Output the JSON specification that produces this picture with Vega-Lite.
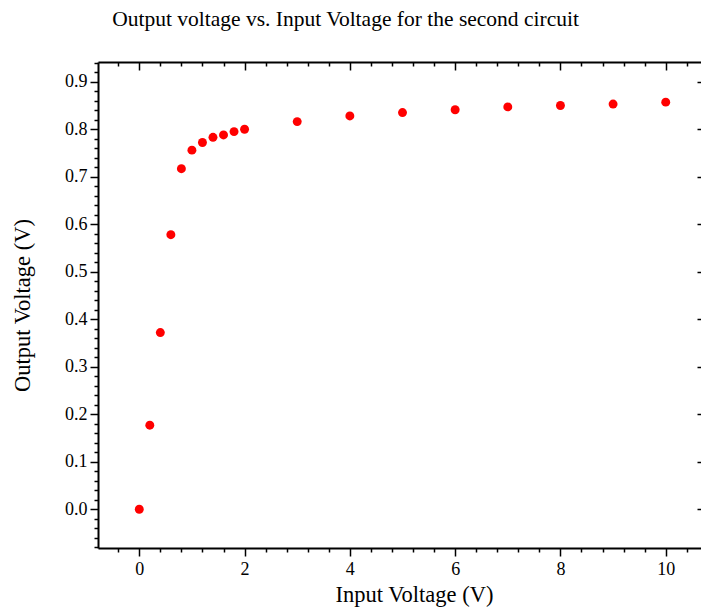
{
  "$schema": "https://vega.github.io/schema/vega-lite/v6.json",
  "width": 607,
  "height": 486,
  "autosize": {"type": "none"},
  "padding": {"left": 98, "top": 62, "right": 0, "bottom": 62},
  "background": "white",
  "config": {
    "font": "Liberation Serif",
    "view": {"stroke": null},
    "axis": {
      "grid": false,
      "domainColor": "black",
      "tickColor": "black",
      "labelColor": "black",
      "titleColor": "black",
      "domainWidth": 2,
      "tickWidth": 1.5,
      "labelFont": "Liberation Serif",
      "titleFont": "Liberation Serif",
      "labelFontSize": 18,
      "titleFontSize": 22,
      "titleFontWeight": "normal"
    }
  },
  "title": {
    "text": "Output voltage vs. Input Voltage for the second circuit",
    "font": "Liberation Serif",
    "fontSize": 21.5,
    "fontWeight": "normal",
    "color": "black",
    "anchor": "middle",
    "frame": "group",
    "dx": -56,
    "offset": 31
  },
  "data": {
    "values": [
      {"vin": 0, "vout": 0.0},
      {"vin": 0.2, "vout": 0.177},
      {"vin": 0.4, "vout": 0.372},
      {"vin": 0.6, "vout": 0.578},
      {"vin": 0.8, "vout": 0.717},
      {"vin": 1.0, "vout": 0.756},
      {"vin": 1.2, "vout": 0.772},
      {"vin": 1.4, "vout": 0.783},
      {"vin": 1.6, "vout": 0.788},
      {"vin": 1.8, "vout": 0.795},
      {"vin": 2.0, "vout": 0.800},
      {"vin": 3, "vout": 0.816},
      {"vin": 4, "vout": 0.828},
      {"vin": 5, "vout": 0.835},
      {"vin": 6, "vout": 0.841},
      {"vin": 7, "vout": 0.847},
      {"vin": 8, "vout": 0.850},
      {"vin": 9, "vout": 0.853},
      {"vin": 10, "vout": 0.857}
    ]
  },
  "resolve": {"axis": {"x": "independent", "y": "independent"}},
  "layer": [
    {
      "mark": {"type": "point", "filled": true, "size": 80, "color": "#ff0000", "opacity": 1, "strokeWidth": 0},
      "encoding": {
        "x": {
          "field": "vin", "type": "quantitative",
          "scale": {"domain": [-0.784, 10.746], "nice": false, "zero": false},
          "axis": {
            "orient": "bottom",
            "values": [0, 2, 4, 6, 8, 10],
            "tickSize": 8,
            "labelPadding": 4,
            "labelFont": "Liberation Serif",
            "labelFontSize": 18,
            "labelColor": "black",
            "title": "Input Voltage (V)",
            "titleFont": "Liberation Serif",
            "titleFontSize": 22.5,
            "titleFontWeight": "normal",
            "titleX": 316,
            "titlePadding": 5
          }
        },
        "y": {
          "field": "vout", "type": "quantitative",
          "scale": {"domain": [-0.0815, 0.9415], "nice": false, "zero": false},
          "axis": {
            "orient": "left",
            "values": [0, 0.1, 0.2, 0.3, 0.4, 0.5, 0.6, 0.7, 0.8, 0.9],
            "format": ".1f",
            "tickSize": 8,
            "labelPadding": 3,
            "labelFont": "Liberation Serif",
            "labelFontSize": 18,
            "labelColor": "black",
            "title": "Output Voltage (V)",
            "titleFont": "Liberation Serif",
            "titleFontSize": 22.5,
            "titleFontWeight": "normal",
            "titlePadding": 30
          }
        }
      }
    },
    {
      "mark": {"type": "point", "filled": true, "opacity": 0},
      "encoding": {
        "x": {
          "field": "vin", "type": "quantitative",
          "axis": {
            "orient": "bottom",
            "values": [-0.4, 0.4, 0.8, 1.2, 1.6, 2.4, 2.8, 3.2, 3.6, 4.4, 4.8, 5.2, 5.6, 6.4, 6.8, 7.2, 7.6, 8.4, 8.8, 9.2, 9.6, 10.4],
            "tickSize": 4,
            "labels": false,
            "domain": false,
            "title": null
          }
        },
        "y": {
          "field": "vout", "type": "quantitative",
          "axis": {
            "orient": "left",
            "values": [-0.08, -0.06, -0.04, -0.02, 0.02, 0.04, 0.06, 0.08, 0.12, 0.14, 0.16, 0.18, 0.22, 0.24, 0.26, 0.28, 0.32, 0.34, 0.36, 0.38, 0.42, 0.44, 0.46, 0.48, 0.52, 0.54, 0.56, 0.58, 0.62, 0.64, 0.66, 0.68, 0.72, 0.74, 0.76, 0.78, 0.82, 0.84, 0.86, 0.88, 0.92, 0.94],
            "tickSize": 4,
            "labels": false,
            "domain": false,
            "title": null
          }
        }
      }
    },
    {
      "mark": {"type": "point", "filled": true, "opacity": 0},
      "encoding": {
        "x": {
          "field": "vin", "type": "quantitative",
          "axis": {
            "orient": "top",
            "values": [0, 2, 4, 6, 8, 10],
            "tickSize": -8,
            "labels": false,
            "title": null
          }
        },
        "y": {
          "field": "vout", "type": "quantitative",
          "axis": {
            "orient": "right",
            "values": [0, 0.1, 0.2, 0.3, 0.4, 0.5, 0.6, 0.7, 0.8, 0.9],
            "tickSize": -8,
            "labels": false,
            "title": null
          }
        }
      }
    },
    {
      "mark": {"type": "point", "filled": true, "opacity": 0},
      "encoding": {
        "x": {
          "field": "vin", "type": "quantitative",
          "axis": {
            "orient": "top",
            "values": [-0.4, 0.4, 0.8, 1.2, 1.6, 2.4, 2.8, 3.2, 3.6, 4.4, 4.8, 5.2, 5.6, 6.4, 6.8, 7.2, 7.6, 8.4, 8.8, 9.2, 9.6, 10.4],
            "tickSize": -4,
            "labels": false,
            "domain": false,
            "title": null
          }
        },
        "y": {
          "field": "vout", "type": "quantitative",
          "axis": {
            "orient": "right",
            "values": [-0.08, -0.06, -0.04, -0.02, 0.02, 0.04, 0.06, 0.08, 0.12, 0.14, 0.16, 0.18, 0.22, 0.24, 0.26, 0.28, 0.32, 0.34, 0.36, 0.38, 0.42, 0.44, 0.46, 0.48, 0.52, 0.54, 0.56, 0.58, 0.62, 0.64, 0.66, 0.68, 0.72, 0.74, 0.76, 0.78, 0.82, 0.84, 0.86, 0.88, 0.92, 0.94],
            "tickSize": -4,
            "labels": false,
            "domain": false,
            "title": null
          }
        }
      }
    }
  ]
}
